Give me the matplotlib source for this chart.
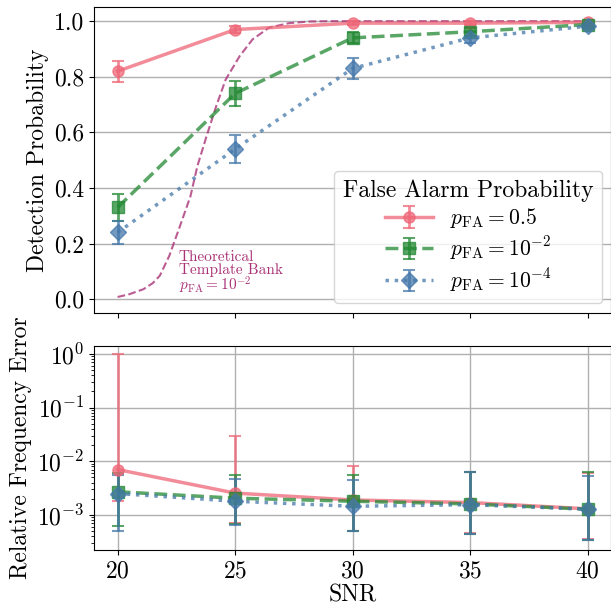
import numpy as np
import matplotlib
matplotlib.use("Agg")
import matplotlib.pyplot as plt

# --------------------------------
# data
# --------------------------------
snr = [20, 25, 30, 35, 40]

# detection probability (mean, symmetric error)
pd_05 = [0.82, 0.97, 0.993, 0.993, 0.996]
pd_05_err = [0.038, 0.014, 0.006, 0.006, 0.004]
pd_1e2 = [0.33, 0.74, 0.94, 0.962, 0.988]
pd_1e2_err = [0.048, 0.045, 0.02, 0.015, 0.008]
pd_1e4 = [0.24, 0.54, 0.83, 0.94, 0.982]
pd_1e4_err = [0.042, 0.05, 0.038, 0.02, 0.01]

# theoretical template bank curve (pFA = 1e-2)
theo_snr = [20.0, 20.5, 21.1, 21.5, 21.8, 22.2, 22.6, 23.1, 23.4, 23.8, 24.2, 24.6,
            25.2, 25.75, 26.45, 27.3, 28.2, 29.0, 32.0, 36.0, 40.0]
theo_pd = [0.008, 0.018, 0.036, 0.058, 0.085, 0.156, 0.25, 0.37, 0.48, 0.59, 0.695, 0.79,
           0.875, 0.935, 0.977, 0.993, 0.999, 1.0, 1.0, 1.0, 1.0]

# relative frequency error (median, lower, upper)
fe_05 = [7.0e-3, 2.55e-3, 1.9e-3, 1.7e-3, 1.3e-3]
fe_05_lo = [1.8e-3, 7.2e-4, 5.0e-4, 4.6e-4, 3.5e-4]
fe_05_hi = [1.0, 2.9e-2, 8.1e-3, 6.2e-3, 6.0e-3]
fe_1e2 = [2.7e-3, 2.05e-3, 1.8e-3, 1.6e-3, 1.28e-3]
fe_1e2_lo = [6.2e-4, 6.7e-4, 5.0e-4, 4.5e-4, 3.4e-4]
fe_1e2_hi = [6.0e-3, 5.5e-3, 5.5e-3, 6.3e-3, 6.3e-3]
fe_1e4 = [2.5e-3, 1.8e-3, 1.45e-3, 1.55e-3, 1.28e-3]
fe_1e4_lo = [5.0e-4, 6.6e-4, 5.0e-4, 4.5e-4, 3.4e-4]
fe_1e4_hi = [5.6e-3, 4.7e-3, 4.4e-3, 6.3e-3, 5.2e-3]

labels = [r"$p_{\rm FA} = 0.5$", r"$p_{\rm FA} = 10^{-2}$", r"$p_{\rm FA} = 10^{-4}$"]
colors = ["#EE6677", "#228833", "#4477AA"]
markers = ["o", "s", "D"]
styles = ["-", "--", ":"]

plt.rcParams["font.family"] = "serif"
plt.rcParams["font.serif"] = ["cmr10"]
plt.rcParams["mathtext.fontset"] = "cm"
plt.rcParams["axes.formatter.use_mathtext"] = True
plt.rcParams["axes.unicode_minus"] = False

FS = 17

fig = plt.figure(figsize=(6.11, 6.08), dpi=100)
ax1 = fig.add_axes([0.154, 0.485, 0.846, 0.503])
ax2 = fig.add_axes([0.154, 0.095, 0.846, 0.336], sharex=ax1)

# --- top: detection probability ---
pd_vals = [pd_05, pd_1e2, pd_1e4]
pd_errs = [pd_05_err, pd_1e2_err, pd_1e4_err]
for i in range(3):
    ax1.errorbar(snr, pd_vals[i], yerr=pd_errs[i], color=colors[i], marker=markers[i],
                 ls=styles[i], lw=2.5, ms=8, capsize=4, elinewidth=2, capthick=1.5,
                 alpha=0.75, label=labels[i])
ax1.plot(theo_snr, theo_pd, color="#AA3377", ls="--", lw=1.5, alpha=0.8, zorder=1)
ax1.text(22.6, 0.01, "Theoretical\nTemplate Bank\n" + r"$p_{\rm FA} = 10^{-2}$",
         color="#AA3377", fontsize=11, linespacing=0.9, va="bottom", ha="left")

ax1.set_xlim(19, 41)
ax1.set_ylim(-0.05, 1.05)
ax1.set_yticks([0.0, 0.2, 0.4, 0.6, 0.8, 1.0])
ax1.set_yticklabels(["0.0", "0.2", "0.4", "0.6", "0.8", "1.0"])
ax1.grid(axis="y", color="#b0b0b0", lw=1)
ax1.set_axisbelow(True)
ax1.tick_params(axis="x", labelbottom=False)
ax1.tick_params(labelsize=FS)
ax1.set_ylabel("Detection Probability", fontsize=FS)
leg = ax1.legend(title="False Alarm Probability", loc="lower right", fontsize=15.5,
                 title_fontsize=FS, bbox_to_anchor=(0.983, 0.033), borderaxespad=0,
                 handlelength=2.2, borderpad=0.4, labelspacing=0.2)
leg.get_frame().set_alpha(0.8)

# --- bottom: relative frequency error ---
fe_vals = [fe_05, fe_1e2, fe_1e4]
fe_lo = [fe_05_lo, fe_1e2_lo, fe_1e4_lo]
fe_hi = [fe_05_hi, fe_1e2_hi, fe_1e4_hi]
for i in range(3):
    v = np.array(fe_vals[i])
    err = [v - np.array(fe_lo[i]), np.array(fe_hi[i]) - v]
    ax2.errorbar(snr, v, yerr=err, color=colors[i], marker=markers[i],
                 ls=styles[i], lw=2.5, ms=8, capsize=4, elinewidth=2, capthick=1.5,
                 alpha=0.75)
ax2.set_yscale("log")
ax2.set_ylim(2.2e-4, 1.4)
ax2.set_yticks([1e0, 1e-1, 1e-2, 1e-3])
ax2.set_xticks(snr)
ax2.grid(True, color="#b0b0b0", lw=1)
ax2.set_axisbelow(True)
ax2.tick_params(labelsize=FS)
ax2.set_ylabel("Relative Frequency Error", fontsize=FS)
ax2.set_xlabel("SNR", fontsize=FS, labelpad=2)

fig.savefig("out.png", dpi=100)
